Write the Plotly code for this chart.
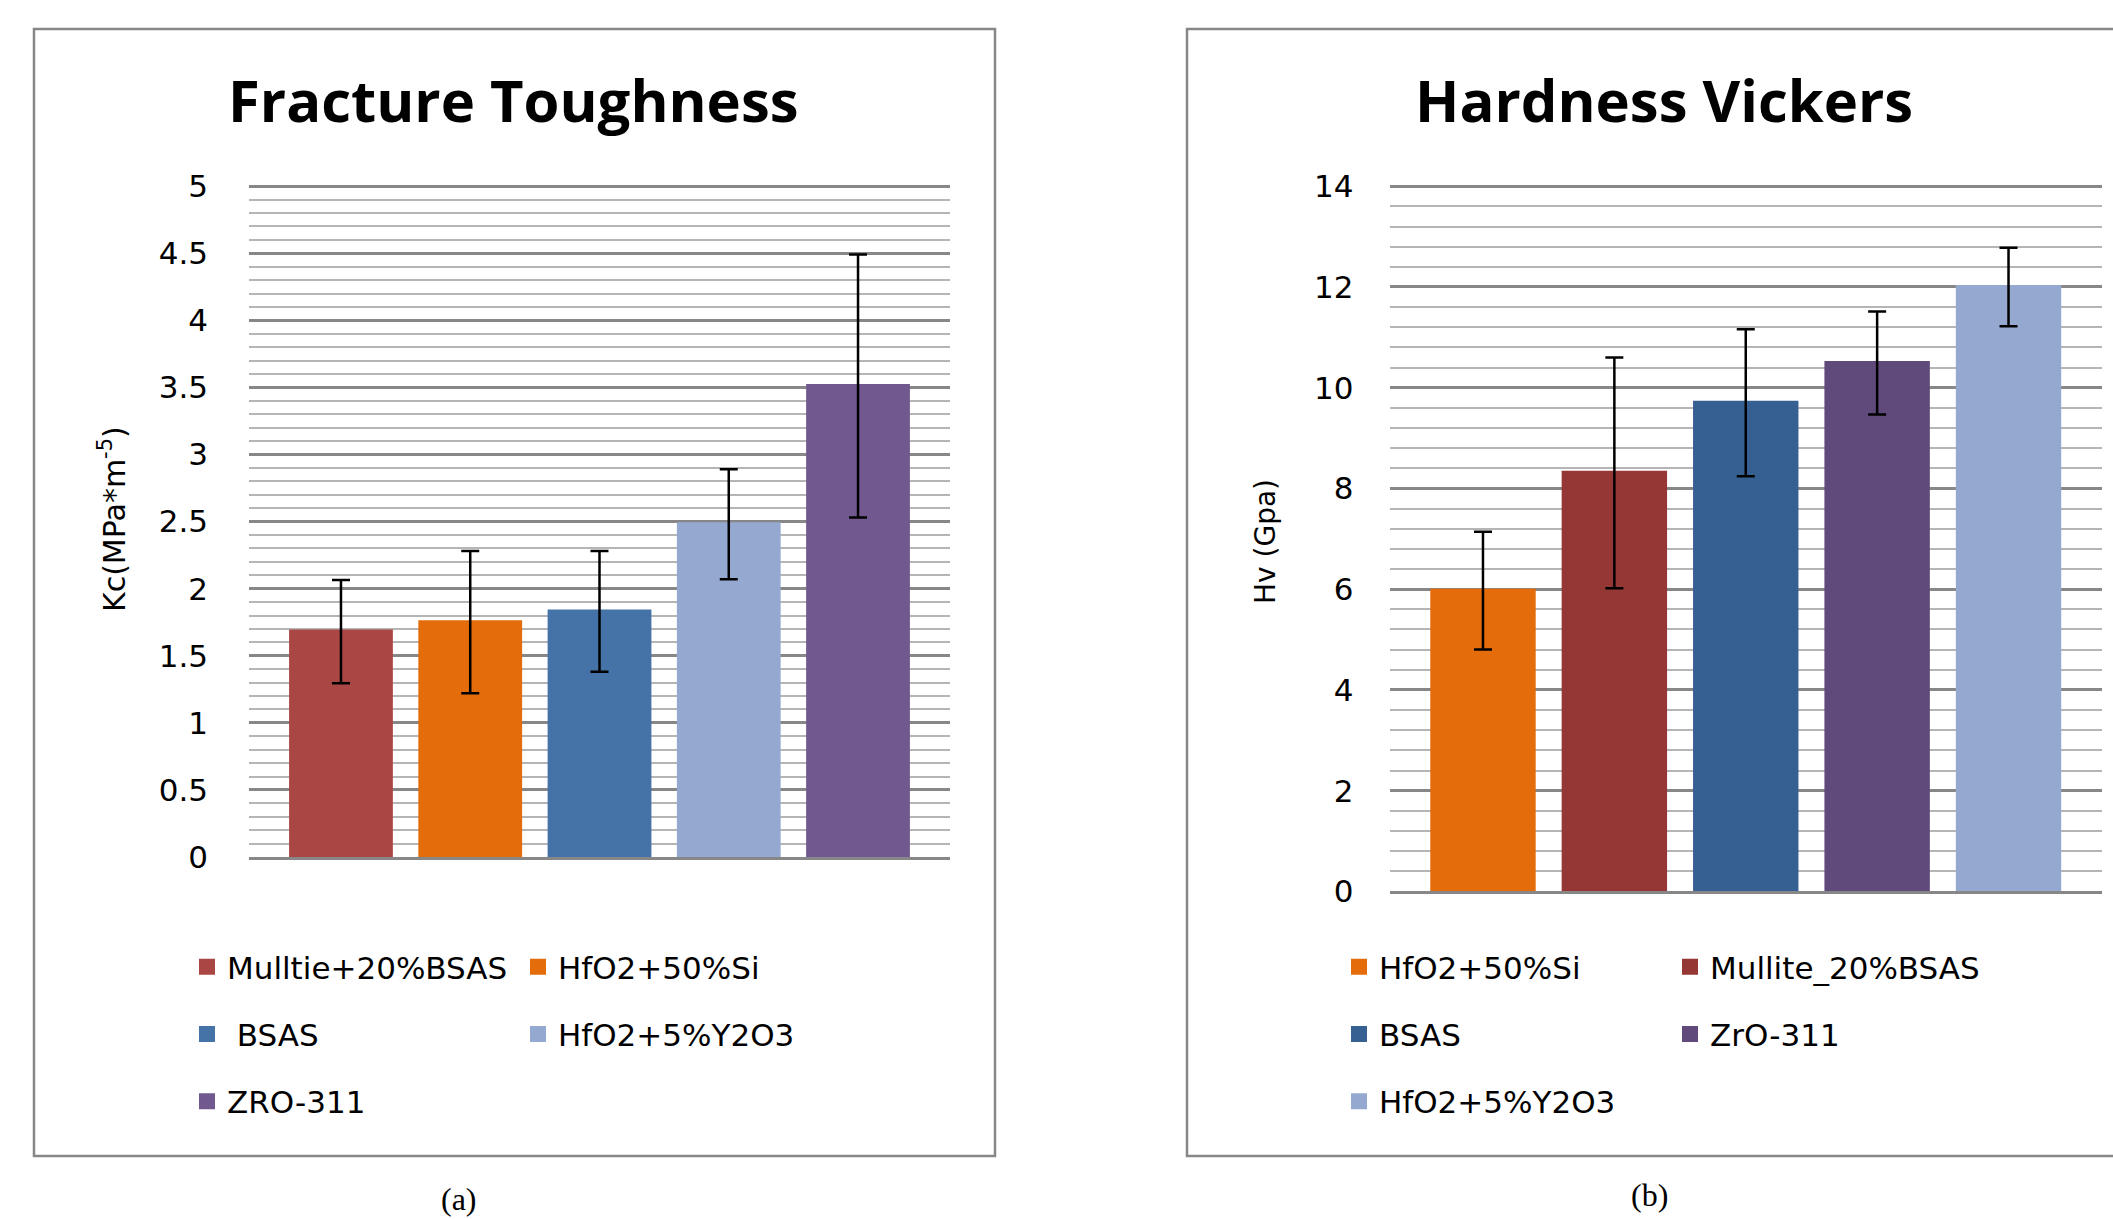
import plotly.graph_objects as go

# ---------------- data ----------------
ft_names = ["Mulltie+20%BSAS", "HfO2+50%Si", " BSAS", "HfO2+5%Y2O3", "ZRO-311"]
ft_values = [1.68, 1.75, 1.83, 2.48, 3.51]
ft_errors = [0.385, 0.53, 0.45, 0.41, 0.98]
ft_colors = ["#AA4744", "#E46C0A", "#4572A7", "#95A9D0", "#71588F"]
ft_legend = ["legend", "legend2", "legend", "legend2", "legend"]

hv_names = ["HfO2+50%Si", "Mullite_20%BSAS", "BSAS", "ZrO-311", "HfO2+5%Y2O3"]
hv_values = [5.97, 8.31, 9.70, 10.49, 12.0]
hv_errors = [1.17, 2.29, 1.46, 1.02, 0.78]
hv_colors = ["#E46C0A", "#953735", "#366092", "#604A7B", "#95A9D0"]
hv_legend = ["legend3", "legend4", "legend3", "legend4", "legend3"]

ft_ticks = [0, 0.5, 1, 1.5, 2, 2.5, 3, 3.5, 4, 4.5, 5]
hv_ticks = [0, 2, 4, 6, 8, 10, 12, 14]

W, H = 2113, 1219
FONT = "DejaVu Sans"
GRID_MAJOR = "#878787"
GRID_MINOR = "#B5B5B5"


def px(x):
    return x / W


def py(y):
    return 1 - y / H


fig = go.Figure()

for i, (n, v, e, c, lg) in enumerate(zip(ft_names, ft_values, ft_errors, ft_colors, ft_legend)):
    fig.add_trace(go.Bar(
        x=["Fracture Toughness"], y=[v], name=n,
        marker=dict(color=c, line=dict(color=c, width=4)),
        error_y=dict(type="data", array=[e], color="black", thickness=2.5, width=9),
        xaxis="x", yaxis="y", legend=lg, legendgroup="a%d" % i,
    ))

for i, (n, v, e, c, lg) in enumerate(zip(hv_names, hv_values, hv_errors, hv_colors, hv_legend)):
    fig.add_trace(go.Bar(
        x=["Hardness Vickers"], y=[v], name=n,
        marker=dict(color=c, line=dict(color=c, width=4)),
        error_y=dict(type="data", array=[e], color="black", thickness=2.5, width=9),
        xaxis="x2", yaxis="y2", legend=lg, legendgroup="b%d" % i,
    ))

common_x = dict(showticklabels=False, showgrid=False, zeroline=False, automargin=False,
                showline=True, linecolor=GRID_MAJOR, linewidth=3, ticks="")
common_y = dict(showline=False, zeroline=False, ticks="", automargin=False,
                gridcolor=GRID_MAJOR, gridwidth=2.5, tickmode="array",
                tickfont=dict(family=FONT, size=31, color="black"))

legend_common = dict(orientation="v", xanchor="left", yanchor="top",
                     bgcolor="rgba(0,0,0,0)", traceorder="grouped",
                     tracegroupgap=24,
                     font=dict(family=FONT, size=31, color="black"))

# slight headroom above the top tick so its gridline is drawn
FT_TOP, HV_TOP = 5.02, 14.05
ft_unit = (857 - 186.2) / 5
hv_unit = (891.4 - 186.2) / 14

fig.update_layout(
    width=W, height=H,
    margin=dict(l=0, r=0, t=0, b=0, pad=0, autoexpand=False),
    paper_bgcolor="white", plot_bgcolor="white",
    barmode="group", bargap=0.078, bargroupgap=0.228,
    showlegend=True,
    xaxis=dict(domain=[px(249), px(950)], anchor="y", **common_x),
    yaxis=dict(domain=[py(857), py(857 - FT_TOP * ft_unit)], anchor="x", range=[0, FT_TOP],
               tickvals=ft_ticks, ticktext=[("%g" % t) for t in ft_ticks],
               ticklabelstandoff=40,
               minor=dict(dtick=0.1, showgrid=True, gridcolor=GRID_MINOR, gridwidth=2.2),
               **common_y),
    xaxis2=dict(domain=[px(1389.5), px(2102)], anchor="y2", **common_x),
    yaxis2=dict(domain=[py(891.4), py(891.4 - HV_TOP * hv_unit)], anchor="x2", range=[0, HV_TOP],
                tickvals=hv_ticks, ticktext=[("%g" % t) for t in hv_ticks],
                ticklabelstandoff=35,
                minor=dict(dtick=0.4, showgrid=True, gridcolor=GRID_MINOR, gridwidth=2.2),
                **common_y),
    legend=dict(x=px(187), y=py(940), **legend_common),
    legend2=dict(x=px(518), y=py(940), **legend_common),
    legend3=dict(x=px(1339), y=py(940), **legend_common),
    legend4=dict(x=px(1670), y=py(940), **legend_common),
)

# panel frames
fig.add_shape(type="rect", xref="paper", yref="paper",
              x0=px(34), x1=px(995), y0=py(1156), y1=py(29),
              line=dict(color="#878787", width=2.5), fillcolor="rgba(0,0,0,0)", layer="below")
fig.add_shape(type="rect", xref="paper", yref="paper",
              x0=px(1187), x1=px(2125), y0=py(1156), y1=py(29),
              line=dict(color="#878787", width=2.5), fillcolor="rgba(0,0,0,0)", layer="below")

# titles
fig.add_annotation(text="<b>Fracture Toughness</b>", x=px(513), y=py(100), xref="paper", yref="paper",
                   showarrow=False, xanchor="center", yanchor="middle",
                   font=dict(family="Open Sans", size=58, color="black"))
fig.add_annotation(text="<b>Hardness Vickers</b>", x=px(1664), y=py(100), xref="paper", yref="paper",
                   showarrow=False, xanchor="center", yanchor="middle",
                   font=dict(family="Open Sans", size=58, color="black"))

# axis titles
fig.add_annotation(text="Kc(MPa*m<sup>-5</sup>)", x=px(112), y=py(519), xref="paper", yref="paper",
                   showarrow=False, textangle=-90, xanchor="center", yanchor="middle",
                   font=dict(family=FONT, size=30, color="black"))
fig.add_annotation(text="Hv (Gpa)", x=px(1265), y=py(542), xref="paper", yref="paper",
                   showarrow=False, textangle=-90, xanchor="center", yanchor="middle",
                   font=dict(family=FONT, size=28, color="black"))

# panel captions
fig.add_annotation(text="(a)", x=px(459), y=py(1199), xref="paper", yref="paper",
                   showarrow=False, xanchor="center", yanchor="middle",
                   font=dict(family="Liberation Serif", size=32, color="black"))
fig.add_annotation(text="(b)", x=px(1649), y=py(1195), xref="paper", yref="paper",
                   showarrow=False, xanchor="center", yanchor="middle",
                   font=dict(family="Liberation Serif", size=32, color="black"))

fig.write_html("out.html", config={"displayModeBar": False},
               post_script="document.body.style.margin='0px';document.body.style.overflow='hidden';")
